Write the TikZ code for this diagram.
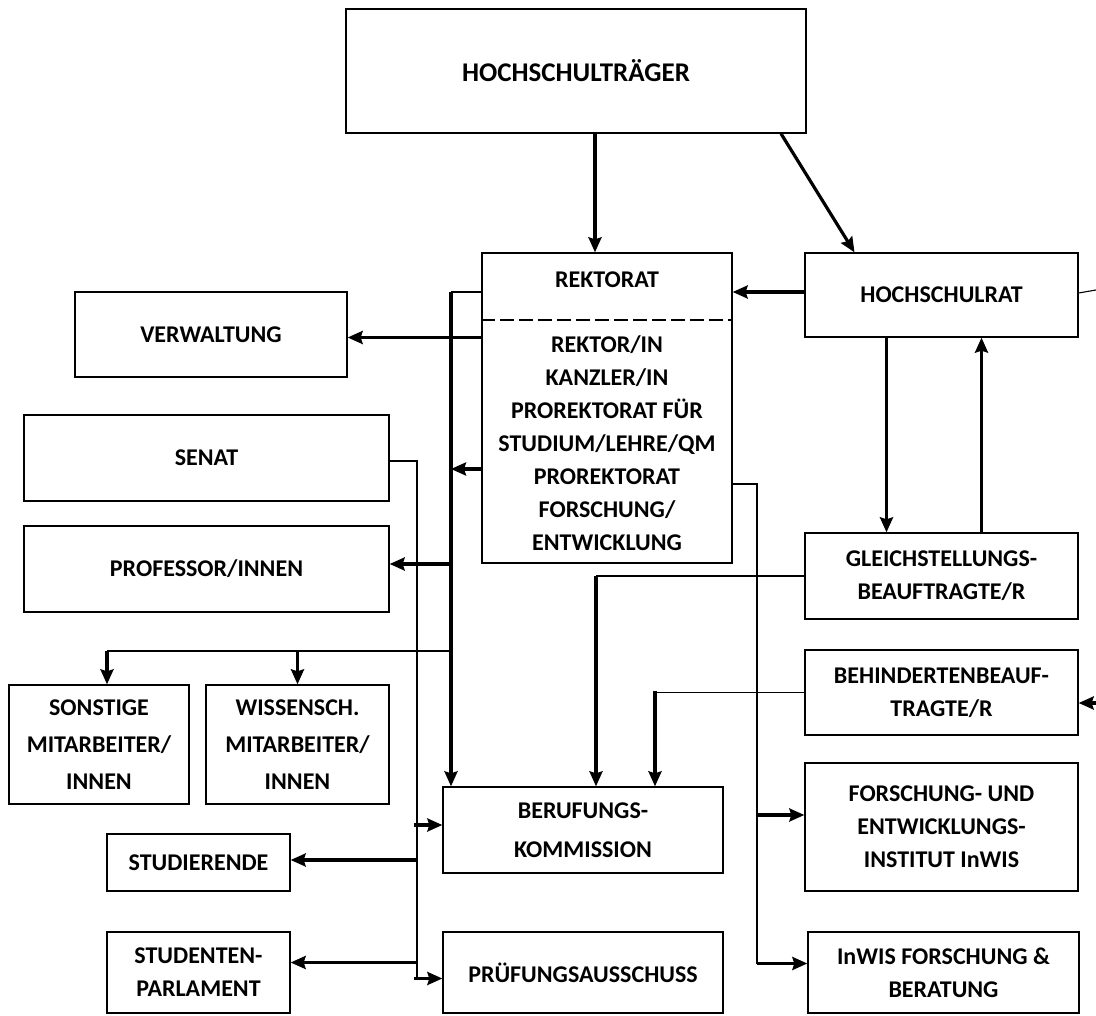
\documentclass[tikz,border=0pt]{standalone}
\usepackage{fontspec}
\setmainfont{Carlito}
\usetikzlibrary{arrows.meta}
\tikzset{x=1pt, y=-1pt, % one unit is one pixel of the chart, y runs downwards
>={Stealth[length=15pt, width=13pt, inset=2pt]}, % arrow heads
unit/.style={draw, line width=1.3pt, align=center, inner sep=0pt, font=\fontsize{24}{33}\selectfont\bfseries}, % every box of the chart
txt/.style={align=center, inner sep=0pt, font=\fontsize{24}{33}\selectfont\bfseries}, % text without a box
wh/.style 2 args={minimum width=#1pt, minimum height=#2pt}, % size of a box
strong/.style={->, line width=3.2pt}, % bold arrows
weak/.style={line width=1.1pt}, % thin lines
}

\begin{document}
\begin{tikzpicture}
    \useasboundingbox (0,0) rectangle (1096,1016);

    % top
    \node[unit, wh={460}{124}, font=\fontsize{27}{33}\selectfont\bfseries] (traeger) at (576,71) {HOCHSCHULTRÄGER};
    \node[unit, wh={250}{310}] (rektorat) at (607,408) {};
    \node[txt] (rektoratTitle) at (607,280) {REKTORAT};
    \node[txt] (rektoratMembers) at (607,443) {REKTOR/IN\\KANZLER/IN\\PROREKTORAT FÜR\\STUDIUM/LEHRE/QM\\PROREKTORAT\\FORSCHUNG/\\ENTWICKLUNG};
    \draw[weak, dash pattern=on 14pt off 5pt] (rektorat.west |- 0,320) -- (rektorat.east |- 0,320);
    \node[unit, wh={273}{84}] (rat) at (941.5,295) {HOCHSCHULRAT};

    % right column
    \node[unit, wh={273}{86}] (gleich) at (941.5,576) {GLEICHSTELLUNGS-\\BEAUFTRAGTE/R};
    \node[unit, wh={273}{85}] (behind) at (941.5,692.5) {BEHINDERTENBEAUF-\\TRAGTE/R};
    \node[unit, wh={273}{128}] (fue) at (941.5,827) {FORSCHUNG- UND\\ENTWICKLUNGS-\\INSTITUT InWIS};
    \node[unit, wh={271}{81}] (inwis) at (943.5,972.5) {InWIS FORSCHUNG \&\\BERATUNG};

    % middle
    \node[unit, wh={280}{86}, font=\fontsize{24}{39}\selectfont\bfseries] (berufung) at (583,830) {BERUFUNGS-\\KOMMISSION};
    \node[unit, wh={280}{81}] (pruefung) at (583,972.5) {PRÜFUNGSAUSSCHUSS};

    % left column
    \node[unit, wh={272}{85}] (verwaltung) at (211,334.5) {VERWALTUNG};
    \node[unit, wh={365}{86}] (senat) at (206.5,458) {SENAT};
    \node[unit, wh={365}{86}] (prof) at (206.5,569) {PROFESSOR/INNEN};
    \node[unit, wh={180}{119}, font=\fontsize{24}{37}\selectfont\bfseries] (sonstige) at (99,744.5) {SONSTIGE\\MITARBEITER/\\INNEN};
    \node[unit, wh={183}{119}, font=\fontsize{24}{37}\selectfont\bfseries] (wiss) at (297.5,744.5) {WISSENSCH.\\MITARBEITER/\\INNEN};
    \node[unit, wh={183}{57}] (studierende) at (198.5,862.5) {STUDIERENDE};
    \node[unit, wh={183}{81}] (parlament) at (198.5,972.5) {STUDENTEN-\\PARLAMENT};

    % junctions
    \coordinate (busTop) at (451,292);
    \coordinate (busMid) at (451,469);
    \coordinate (staffLine) at (451,651);
    \coordinate (staffLeft) at (107,651);
    \coordinate (senatBus) at (417,461);
    \coordinate (forschBus) at (757,484);
    \coordinate (edgeA) at (1096,290);
    \coordinate (edgeB) at (1096,698);
    \coordinate (parlIn) at ([yshift=10pt]parlament.east);
    \coordinate (pruefIn) at ([yshift=-6pt]pruefung.west);
    \coordinate (fueIn) at ([yshift=12pt]fue.west);
    \coordinate (inwisIn) at ([yshift=9pt]inwis.west);
    \coordinate (berA) at ([xshift=13pt]berufung.north);
    \coordinate (berB) at ([xshift=72pt]berufung.north);

    % connectors
    \draw[strong] ([xshift=19pt]traeger.south) -- ([xshift=-12pt]rektorat.north);
    \draw[strong] ([xshift=205pt]traeger.south) -- ([xshift=-87pt]rat.north);
    \draw[strong] ([yshift=3pt]rat.west) -- (rektorat.east |- busTop);
    \draw[weak] ([yshift=2pt]rat.east) -- (edgeA);
    \draw[strong] ([xshift=-55pt]rat.south) -- ([xshift=-55pt]gleich.north);
    \draw[strong] ([xshift=40pt]gleich.north) -- ([xshift=40pt]rat.south);
    \draw[weak] (rektorat.west |- busTop) -- (busTop);
    \draw[strong] (busTop) -- (busTop |- berufung.north);
    \draw[strong] ([yshift=-3pt]verwaltung.east -| rektorat.west) -- ([yshift=-3pt]verwaltung.east);
    \draw[strong] (busMid -| rektorat.west) -- (busMid);
    \draw[strong] ([xshift=2pt]busMid |- 0,564) -- (prof.east |- 0,564);
    \draw[weak] (staffLine) -- (staffLeft);
    \draw[strong] (staffLeft) -- (staffLeft |- sonstige.north);
    \draw[strong] (staffLine -| wiss.north) -- (wiss.north);
    \draw[weak] (senat.east |- senatBus) -- (senatBus) -- (senatBus |- pruefIn);
    \draw[strong] ([xshift=-3pt]senatBus |- 0,825) -- (berufung.west |- 0,825);
    \draw[strong] (senatBus |- 0,860) -- (studierende.east |- 0,860);
    \draw[strong] (senatBus |- parlIn) -- (parlIn);
    \draw[strong] ([xshift=-3pt]senatBus |- pruefIn) -- (pruefIn);
    \draw[weak] (rektorat.east |- forschBus) -- (forschBus) -- (forschBus |- inwisIn);
    \draw[strong] (forschBus |- fueIn) -- (fueIn);
    \draw[strong] (forschBus |- inwisIn) -- (inwisIn);
    \draw[weak] (gleich.west) -- (gleich.west -| berA);
    \draw[strong] (gleich.west -| berA) -- (berA);
    \draw[weak] (behind.west) -- (behind.west -| berB);
    \draw[strong] ([yshift=2pt]behind.west -| berB) -- (berB);
    \draw[strong] ([yshift=-5pt]edgeB) -- ([yshift=-5pt]edgeB -| behind.east);
\end{tikzpicture}
\end{document}
